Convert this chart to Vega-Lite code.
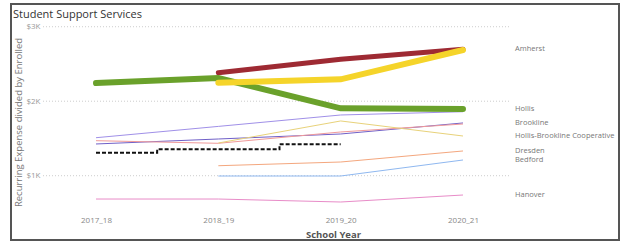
{
  "$schema": "https://vega.github.io/schema/vega-lite/v6.json",
  "width": 608,
  "height": 236,
  "autosize": {"type": "none"},
  "padding": {"left": 11, "top": 4, "right": 8, "bottom": 4},
  "background": "white",
  "title": {"text": "Student Support Services", "anchor": "start", "frame": "group", "orient": "top", "offset": 0, "baseline": "bottom", "dx": 2, "dy": 27, "font": "Open Sans", "fontSize": 11, "fontWeight": "normal", "color": "#333"},
  "config": {"view": {"stroke": "#555", "strokeWidth": 2}, "font": "Open Sans"},
  "datasets": {
    "main": [
      {"district": "Hollis", "year": 2017, "value": 2244},
      {"district": "Hollis", "year": 2018, "value": 2311},
      {"district": "Hollis", "year": 2019, "value": 1905},
      {"district": "Hollis", "year": 2020, "value": 1895},
      {"district": "Amherst", "year": 2018, "value": 2383},
      {"district": "Amherst", "year": 2019, "value": 2562},
      {"district": "Amherst", "year": 2020, "value": 2697},
      {"district": "Other 3", "year": 2018, "value": 2248},
      {"district": "Other 3", "year": 2019, "value": 2294},
      {"district": "Other 3", "year": 2020, "value": 2687},
      {"district": "Other 1", "year": 2017, "value": 1510},
      {"district": "Other 1", "year": 2018, "value": 1662},
      {"district": "Other 1", "year": 2019, "value": 1815},
      {"district": "Other 1", "year": 2020, "value": 1859},
      {"district": "Brookline", "year": 2017, "value": 1426},
      {"district": "Brookline", "year": 2018, "value": 1493},
      {"district": "Brookline", "year": 2019, "value": 1560},
      {"district": "Brookline", "year": 2020, "value": 1708},
      {"district": "Other 2", "year": 2017, "value": 1470},
      {"district": "Other 2", "year": 2018, "value": 1435},
      {"district": "Other 2", "year": 2019, "value": 1587},
      {"district": "Other 2", "year": 2020, "value": 1694},
      {"district": "Hollis-Brookline Cooperative", "year": 2018, "value": 1439},
      {"district": "Hollis-Brookline Cooperative", "year": 2019, "value": 1735},
      {"district": "Hollis-Brookline Cooperative", "year": 2020, "value": 1533},
      {"district": "Average", "year": 2017, "value": 1309},
      {"district": "Average", "year": 2018, "value": 1354},
      {"district": "Average", "year": 2019, "value": 1421},
      {"district": "Dresden", "year": 2018, "value": 1134},
      {"district": "Dresden", "year": 2019, "value": 1184},
      {"district": "Dresden", "year": 2020, "value": 1332},
      {"district": "Bedford", "year": 2018, "value": 996},
      {"district": "Bedford", "year": 2019, "value": 996},
      {"district": "Bedford", "year": 2020, "value": 1211},
      {"district": "Hanover", "year": 2017, "value": 687},
      {"district": "Hanover", "year": 2018, "value": 687},
      {"district": "Hanover", "year": 2019, "value": 647},
      {"district": "Hanover", "year": 2020, "value": 741}
    ],
    "grid": [{"value": 1000}, {"value": 2000}, {"value": 3000}]
  },
  "layer": [
    {
      "data": {"name": "grid"},
      "mark": {"type": "rule", "color": "#cccccc", "strokeDash": [1, 2], "strokeWidth": 1},
      "encoding": {
        "x": {"datum": 2016.567, "type": "quantitative",
          "scale": {"domain": [2017, 2020], "range": [85, 452], "nice": false, "zero": false},
          "axis": {"values": [2017, 2018, 2019, 2020], "labelExpr": "datum.value + '_' + (datum.value - 1999)", "grid": false, "domain": false, "ticks": false, "orient": "bottom", "offset": -26, "labelPadding": 2, "labelFontSize": 8, "labelColor": "#888", "labelFlush": false, "title": "School Year", "titleFontSize": 9.5, "titleFontWeight": "bold", "titleColor": "#555", "titlePadding": 5, "titleX": 322}},
        "x2": {"datum": 2020.384},
        "y": {"field": "value", "type": "quantitative",
          "scale": {"domain": [137, 3305], "nice": false, "zero": false},
          "axis": {"values": [1000, 2000, 3000], "labelExpr": "'$' + (datum.value / 1000) + 'K'", "grid": false, "domain": false, "ticks": false, "offset": -31, "labelPadding": 2, "labelFontSize": 8, "labelColor": "#999", "title": "Recurring Expense divided by Enrolled", "titleFontSize": 9.5, "titleFontWeight": "normal", "titleColor": "#777", "titlePadding": 2}}
      }
    },
    {
      "data": {"name": "main"},
      "layer": [
        {
          "transform": [{"filter": {"field": "district", "oneOf": ["Other 1", "Brookline", "Other 2", "Hollis-Brookline Cooperative", "Dresden", "Bedford", "Hanover"]}}],
          "mark": {"type": "line", "strokeWidth": 1},
          "encoding": {
            "color": {"field": "district", "type": "nominal", "legend": null,
              "scale": {"domain": ["Other 1", "Brookline", "Other 2", "Hollis-Brookline Cooperative", "Dresden", "Bedford", "Hanover"],
                        "range": ["#a090e8", "#7060c8", "#f09a9a", "#e8d27a", "#f4a77e", "#8fb8f0", "#e88cc8"]}}
          }
        },
        {
          "transform": [{"filter": {"field": "district", "equal": "Average"}}],
          "mark": {"type": "line", "interpolate": "step", "color": "#111", "strokeWidth": 2, "strokeDash": [4, 2]},
          "encoding": {}
        },
        {
          "transform": [{"filter": {"field": "district", "equal": "Amherst"}}],
          "mark": {"type": "line", "color": "#9e2a33", "strokeWidth": 5, "strokeCap": "round"},
          "encoding": {}
        },
        {
          "transform": [{"filter": {"field": "district", "equal": "Hollis"}}],
          "mark": {"type": "line", "color": "#6aa12b", "strokeWidth": 6, "strokeCap": "round"},
          "encoding": {}
        },
        {
          "transform": [{"filter": {"field": "district", "equal": "Other 3"}}],
          "mark": {"type": "line", "color": "#f5d42a", "strokeWidth": 6, "strokeCap": "round"},
          "encoding": {}
        },
        {
          "transform": [
            {"filter": {"field": "year", "equal": 2020}},
            {"filter": {"field": "district", "oneOf": ["Amherst", "Hollis", "Brookline", "Hollis-Brookline Cooperative", "Dresden", "Bedford", "Hanover"]}}
          ],
          "mark": {"type": "text", "align": "left", "baseline": "middle", "dx": 52, "fontSize": 7.5, "color": "#777", "font": "Open Sans"},
          "encoding": {"text": {"field": "district", "type": "nominal"}}
        }
      ],
      "encoding": {
        "x": {"field": "year", "type": "quantitative", "title": "School Year"},
        "y": {"field": "value", "type": "quantitative", "title": "Recurring Expense divided by Enrolled"}
      }
    }
  ]
}
